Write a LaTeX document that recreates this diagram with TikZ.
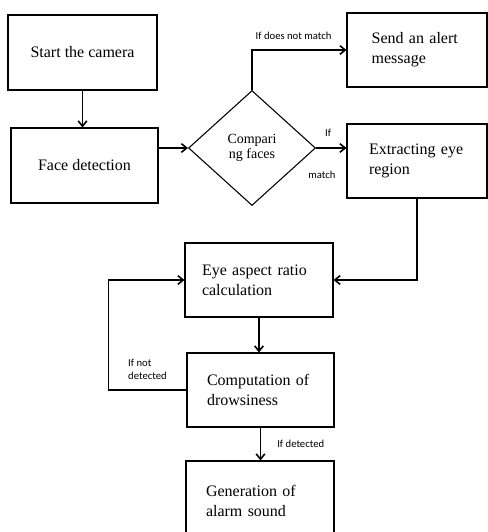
\documentclass[tikz,border=0pt]{standalone}
\usepackage{fontspec}
\setmainfont{Liberation Serif}
\newfontfamily\lblfont{Carlito}
\usetikzlibrary{arrows.meta, positioning, calc, shapes.geometric}

\begin{document}
\begin{tikzpicture}[x=0.75pt, y=-0.75pt,
    box/.style={draw, line width=0.8pt, rectangle, minimum height=55.5pt, inner sep=2pt, font=\fontsize{12}{15}\selectfont},
    flow/.style={line width=1.2pt, -{Straight Barb[length=4pt, width=6.5pt]}},
    lbl/.style={font=\lblfont\fontsize{8}{10}\selectfont, inner sep=1pt}]
    \useasboundingbox (0,0) rectangle (488,532);
    % boxes
    \node[box, minimum width=111.75pt, minimum height=56.25pt, align=center] (start) at (82.5,52.5) {Start the camera};
    \node[box, minimum width=110.25pt, minimum height=56.25pt, align=center] (face) at (84.5,165.5) {Face detection};
    \node[draw, line width=0.8pt, diamond, minimum width=95.25pt, minimum height=86.25pt, inner sep=0pt,
          align=center, font=\fontsize{10.5}{11.25}\selectfont] (cmp) at (252,148) {Compari\\ng faces};
    \node[box, minimum width=105pt, text width=68pt, align=left] (alert) at (417,50) {Send an alert\\message};
    \node[box, minimum width=105pt, text width=72pt, align=left] (extract) at (417,161) {Extracting eye\\region};
    \node[box, minimum width=111pt, text width=85.5pt, align=left] (ear) at (259,280) {Eye aspect ratio\\calculation};
    \node[box, minimum width=110.25pt, text width=80.25pt, align=left] (drowsy) at (260.5,390) {Computation of\\drowsiness};
    \node[box, minimum width=111pt, minimum height=60pt, text width=81pt, align=left] (alarm) at (260,501) {Generation of\\alarm sound};
    % arrows
    \draw[flow] (start.south) -- (start.south |- face.north);
    \draw[flow] (face.east |- cmp.west) -- (cmp.west);
    \draw[flow] (cmp.north) |- node[lbl, pos=0.72, above=6pt] {If does not match} (alert.west);
    \draw[flow] (cmp.east) -- node[lbl, pos=0.4, above=7pt] {If} node[lbl, pos=0.19, below=16pt] {match} (cmp.east -| extract.west);
    \draw[flow] (extract.south) |- (ear.east);
    \draw[flow] (ear.south) -- (ear.south |- drowsy.north);
    \draw[flow] (drowsy.west) -- node[lbl, above=6pt, align=left] {If not\\detected} ++(-78,0) |- (ear.west);
    \draw[flow] (drowsy.south) -- node[lbl, right=11pt] {If detected} (drowsy.south |- alarm.north);
\end{tikzpicture}
\end{document}
